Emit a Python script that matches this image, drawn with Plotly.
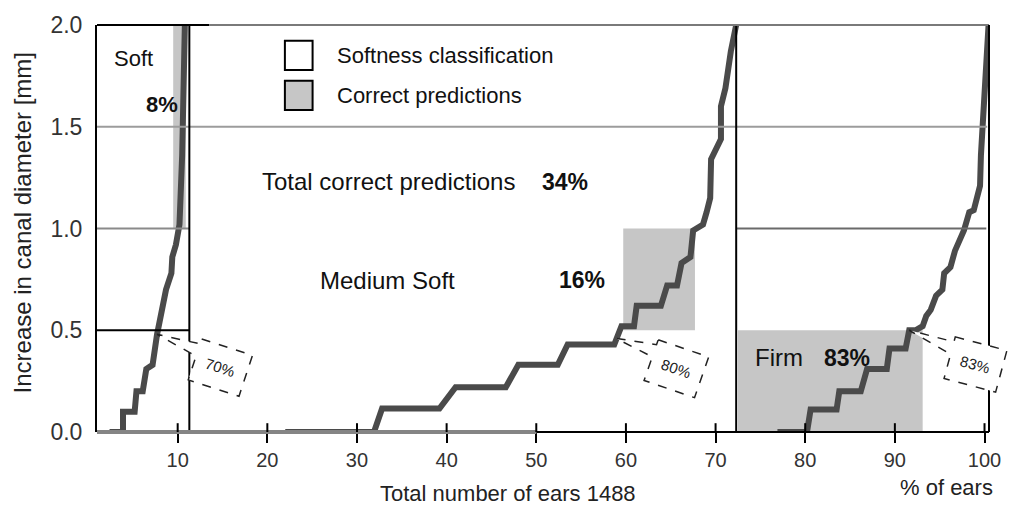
import math
import plotly.graph_objects as go

# ---- figure geometry -------------------------------------------------------
W, H = 1013, 506
ML, MR, MT, MB = 97, 14, 16, 74
PW, PH = W - ML - MR, H - MT - MB
X_RANGE = [1.0, 100.5]
Y_RANGE = [0.0, 2.0]

FONT = "Liberation Sans, Arial, sans-serif"
CURVE_COLOR = "#4a4a4a"
FILL_COLOR = "#c6c6c6"

# ---- data --------------------------------------------------------------------
# cumulative distribution of canal-diameter increase (mm) against % of ears,
# one staircase per softness class
soft_x = [2.4, 3.9, 3.9, 5.2, 5.4, 6.1, 6.5, 7.2, 7.7, 8.3, 8.7, 9.3, 9.4, 9.8, 10.2, 10.5, 10.8]
soft_y = [0.0, 0.0, 0.10, 0.10, 0.20, 0.20, 0.31, 0.33, 0.48, 0.60, 0.70, 0.78, 0.86, 0.92, 1.02, 1.36, 2.0]

medium_x = [22.0, 31.9, 32.8, 39.2, 41.0, 46.6, 48.0, 52.4, 53.5, 58.7, 59.5, 60.9, 61.2, 63.9,
            64.6, 65.7, 66.2, 67.2, 67.5, 68.6, 69.0, 69.4, 69.5, 70.0, 70.6, 70.6, 71.1, 71.7, 72.3]
medium_y = [0.0, 0.0, 0.115, 0.115, 0.22, 0.22, 0.33, 0.33, 0.43, 0.43, 0.52, 0.52, 0.62, 0.62,
            0.72, 0.72, 0.83, 0.86, 0.99, 1.02, 1.08, 1.15, 1.34, 1.39, 1.44, 1.60, 1.69, 1.87, 2.0]

firm_x = [76.9, 80.2, 80.6, 83.5, 83.8, 86.2, 86.9, 89.1, 89.4, 91.2, 91.6, 92.3, 93.1, 93.5, 94.0,
          94.6, 95.3, 95.5, 96.2, 96.7, 97.7, 98.3, 98.8, 99.5, 99.6, 99.8, 100.1, 100.4, 100.45]
firm_y = [0.0, 0.0, 0.11, 0.11, 0.20, 0.20, 0.31, 0.31, 0.41, 0.41, 0.50, 0.50, 0.52, 0.57, 0.60,
          0.67, 0.70, 0.78, 0.81, 0.89, 0.99, 1.08, 1.09, 1.21, 1.36, 1.49, 1.68, 1.92, 2.0]

# correct-prediction regions: (x0, x1, y0, y1)
correct_soft = (9.5, 10.9, 1.0, 2.0)
correct_medium = (59.7, 67.7, 0.5, 1.0)
correct_firm = (72.5, 93.1, 0.0, 0.5)

# class boundaries (% of ears)
soft_edge = 11.3
firm_edge = 72.3

# percentage call-outs: anchor on curve and label
callout_points = [(7.7, 0.48), (58.9, 0.46), (91.6, 0.50)]
callout_labels = ["70%", "80%", "83%"]

x_ticks = [10, 20, 30, 40, 50, 60, 70, 80, 90, 100]
y_ticks = [0.0, 0.5, 1.0, 1.5, 2.0]
y_tick_text = ["0.0", "0.5", "1.0", "1.5", "2.0"]


# ---- helpers -----------------------------------------------------------------
def to_paper(x, y):
    return ((x - X_RANGE[0]) / (X_RANGE[1] - X_RANGE[0]),
            (y - Y_RANGE[0]) / (Y_RANGE[1] - Y_RANGE[0]))


def px_paper(px, py):
    return (px - ML) / PW, (MT + PH - py) / PH


def line(x0, y0, x1, y1, color="black", width=2):
    return dict(type="line", xref="x", yref="y",
                x0=x0, y0=y0, x1=x1, y1=y1, line=dict(color=color, width=width))


def rect(box, color=FILL_COLOR):
    x0, x1, y0, y1 = box
    return dict(type="rect", xref="x", yref="y", x0=x0, x1=x1, y0=y0, y1=y1,
                fillcolor=color, line=dict(width=0), layer="below")


fig = go.Figure()

for xs, ys in [(soft_x, soft_y), (medium_x, medium_y), (firm_x, firm_y)]:
    fig.add_trace(go.Scatter(x=xs, y=ys, mode="lines",
                             line=dict(color=CURVE_COLOR, width=6),
                             hoverinfo="skip", cliponaxis=False))

shapes = [rect(correct_soft), rect(correct_medium), rect(correct_firm)]

# softness classification grid
shapes += [
    line(X_RANGE[0], 1.5, 100.3, 1.5, color="#9c9c9c", width=2),
    line(X_RANGE[0], 1.0, soft_edge, 1.0, color="#8a8a8a", width=2),
    line(firm_edge, 1.0, 100.2, 1.0, color="#6a6a6a", width=2),
    line(X_RANGE[0], 0.5, soft_edge, 0.5, color="black", width=2),
    line(soft_edge, 0.0, soft_edge, 2.0, color="black", width=2),
    line(firm_edge, 0.0, firm_edge, 2.0, color="black", width=2),
]

# frame: top, right, baseline
fx_soft = to_paper(13.5, 0)[0]
fx_mid = to_paper(50, 0)[0]
shapes += [
    dict(type="line", xref="paper", yref="paper", x0=0, x1=fx_soft, y0=1, y1=1,
         line=dict(color="black", width=2)),
    dict(type="line", xref="paper", yref="paper", x0=fx_soft, x1=1, y0=1, y1=1,
         line=dict(color="#7a7a7a", width=2)),
    dict(type="line", xref="paper", yref="paper", x0=1, x1=1, y0=0, y1=1,
         line=dict(color="black", width=2)),
    dict(type="line", xref="paper", yref="paper", x0=0, x1=fx_mid, y0=0, y1=0,
         line=dict(color="#858585", width=4)),
    dict(type="line", xref="paper", yref="paper", x0=fx_mid, x1=1, y0=0, y1=0,
         line=dict(color="black", width=2)),
]

# inner half of the x tick marks
for t in x_ticks:
    tx = to_paper(t, 0)[0]
    shapes.append(dict(type="line", xref="paper", yref="paper", x0=tx, x1=tx,
                       y0=0, y1=9 / PH, line=dict(color="black", width=2)))

annotations = []

# dashed speech-bubble call-outs
callout_geom = [(64, 34, 18), (61, 31, 19), (67, 35, 15)]
for (cx, cy), label, (dx, dy, ang) in zip(callout_points, callout_labels, callout_geom):
    px0, py0 = to_paper(cx, cy)
    a = math.radians(ang)
    w, h = 54, 44

    def pt(u, v):
        ox = dx + u * math.cos(a) - v * math.sin(a)
        oy = dy + u * math.sin(a) + v * math.cos(a)
        return px0 + ox / PW, py0 - oy / PH

    tl, tr, br, bl = pt(-w / 2, -h / 2), pt(w / 2, -h / 2), pt(w / 2, h / 2), pt(-w / 2, h / 2)
    na, nb = pt(-w / 2, -h / 2 + 0.12 * h), pt(-w / 2, -h / 2 + 0.42 * h)
    seq = [tl, tr, br, bl, nb, (px0, py0), na]
    path = "M " + " L ".join(f"{p[0]:.5f},{p[1]:.5f}" for p in seq) + " Z"
    shapes.append(dict(type="path", xref="paper", yref="paper", path=path,
                       fillcolor="white", line=dict(color="#222222", width=1.5, dash="dash")))
    c = pt(0, 0)
    annotations.append(dict(x=c[0], y=c[1], xref="paper", yref="paper", text=label,
                            showarrow=False, textangle=ang, xanchor="center", yanchor="middle",
                            font=dict(family=FONT, size=15, color="#222222")))

# legend
for py_top, fill in [(32, "white"), (73, FILL_COLOR)]:
    x0, y0 = px_paper(287, py_top)
    x1, y1 = px_paper(315, py_top + 30)
    shapes.append(dict(type="rect", xref="paper", yref="paper", x0=x0, x1=x1, y0=y0, y1=y1,
                       fillcolor=fill, line=dict(color="black", width=2)))


def text(px, py, s, size=22, anchor="left", bold=False, color="#111111", angle=0):
    x, y = px_paper(px, py)
    annotations.append(dict(x=x, y=y, xref="paper", yref="paper",
                            text=f"<b>{s}</b>" if bold else s, showarrow=False,
                            xanchor=anchor, yanchor="middle", textangle=angle,
                            font=dict(family=FONT, size=size, color=color)))


text(338, 47, "Softness classification", size=22)
text(338, 88, "Correct predictions", size=22)
text(112, 50, "Soft", size=22)
text(145, 97, "8%", size=22, bold=True)
text(262, 176, "Total correct predictions", size=24)
text(545, 176, "34%", size=23, bold=True)
text(320, 277, "Medium Soft", size=24)
text(562, 277, "16%", size=23, bold=True)
text(760, 356, "Firm", size=24)
text(830, 356, "83%", size=23, bold=True)

# axis titles
text(513, 495, "Total number of ears 1488", size=22, anchor="center", color="#222222")
text(956, 489, "% of ears", size=22, anchor="center", color="#222222")
text(22, 218, "Increase in canal diameter [mm]", size=24, anchor="center",
     color="#222222", angle=-90)

fig.update_layout(
    width=W, height=H,
    margin=dict(l=ML, r=MR, t=MT, b=MB, pad=0),
    plot_bgcolor="white", paper_bgcolor="white",
    showlegend=False,
    shapes=shapes, annotations=annotations,
    xaxis=dict(range=X_RANGE, showgrid=False, zeroline=False, showline=False,
               ticks="outside", ticklen=10, tickwidth=2, tickcolor="black",
               tickvals=x_ticks, ticktext=[str(t) for t in x_ticks],
               tickfont=dict(family=FONT, size=20, color="#333333")),
    yaxis=dict(range=Y_RANGE, showgrid=False, zeroline=False, showline=True,
               linecolor="black", linewidth=2, ticks="",
               tickvals=y_ticks, ticktext=y_tick_text, ticklabelstandoff=8,
               tickfont=dict(family=FONT, size=23, color="#333333")),
)

fig.write_html("out.html")
